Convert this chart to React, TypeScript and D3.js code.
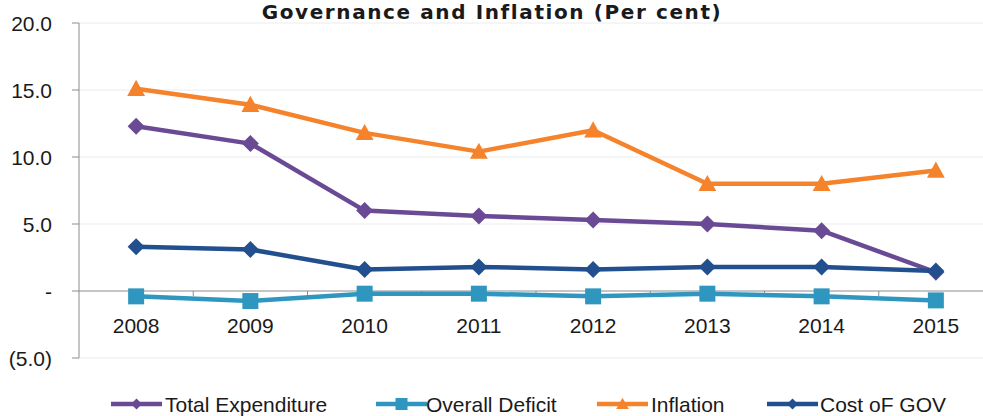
import React from "react";
import * as d3 from "d3";

const years = ["2008", "2009", "2010", "2011", "2012", "2013", "2014", "2015"];
const totalExpenditure = [12.3, 11.0, 6.0, 5.6, 5.3, 5.0, 4.5, 1.4];
const overallDeficit = [-0.4, -0.75, -0.2, -0.2, -0.4, -0.2, -0.4, -0.7];
const inflation = [15.1, 13.9, 11.8, 10.4, 12.0, 8.0, 8.0, 9.0];
const costOfGov = [3.3, 3.1, 1.6, 1.8, 1.6, 1.8, 1.8, 1.5];
const yTicks = [-5, 0, 5, 10, 15, 20];
const yTickLabels = ["(5.0)", "-", "5.0", "10.0", "15.0", "20.0"];

const series = [
  { name: "Total Expenditure", values: totalExpenditure, color: "#6a4a94", marker: "diamond" },
  { name: "Overall Deficit", values: overallDeficit, color: "#2f97bf", marker: "square" },
  { name: "Inflation", values: inflation, color: "#f5832c", marker: "triangle" },
  { name: "Cost oF GOV", values: costOfGov, color: "#224f8d", marker: "diamond" },
];

const W = 983;
const H = 416;
const left = 79;
const right = 993;
const top = 23;
const bottom = 358;

function markerPath(type: string, r: number) {
  const p = d3.path();
  if (type === "diamond") {
    p.moveTo(0, -r);
    p.lineTo(r, 0);
    p.lineTo(0, r);
    p.lineTo(-r, 0);
    p.closePath();
  } else if (type === "square") {
    p.rect(-r, -r, 2 * r, 2 * r);
  } else {
    p.moveTo(0, -r * 1.05);
    p.lineTo(r * 1.05, r * 0.85);
    p.lineTo(-r * 1.05, r * 0.85);
    p.closePath();
  }
  return p.toString();
}

export default function App() {
  const x = d3.scaleBand<string>().domain(years).range([left, right]).padding(0);
  const y = d3.scaleLinear().domain([-5, 20]).range([bottom, top]);
  const cx = (yr: string) => (x(yr) as number) + x.bandwidth() / 2;
  const line = d3
    .line<number>()
    .x((_, i) => cx(years[i]))
    .y((v) => y(v));

  const font = "'Liberation Sans', Arial, sans-serif";
  const markerR: Record<string, number> = { diamond: 8.5, square: 8, triangle: 8.5 };
  const legendR: Record<string, number> = { diamond: 5.5, square: 6, triangle: 6 };

  const legendItems = [
    { lx: 111, tx: 165 },
    { lx: 376, tx: 426 },
    { lx: 597, tx: 651 },
    { lx: 767, tx: 820 },
  ];

  return (
    <svg
      width={W}
      height={H}
      style={{ position: "absolute", left: 0, top: 0, background: "#fff" }}
    >
      {/* gridlines */}
      {yTicks.map((t) =>
        t === 0 ? null : (
          <line key={"g" + t} x1={left} x2={W} y1={y(t)} y2={y(t)} stroke="#ececec" strokeWidth={1} />
        )
      )}
      {/* y axis */}
      <line x1={left} x2={left} y1={top} y2={bottom} stroke="#8c8c8c" strokeWidth={1} />
      {yTicks.map((t, i) => (
        <g key={"yt" + t}>
          <line x1={left - 7} x2={left} y1={y(t)} y2={y(t)} stroke="#8c8c8c" strokeWidth={1} />
          <text
            x={52}
            y={y(t)}
            textAnchor="end"
            dominantBaseline="central"
            fontFamily={font}
            fontSize={21}
            fill="#1a1a1a"
          >
            {yTickLabels[i]}
          </text>
        </g>
      ))}
      {/* zero line */}
      <line x1={left} x2={W} y1={y(0)} y2={y(0)} stroke="#8c8c8c" strokeWidth={1} />
      {years.map((yr, i) =>
        i === 0 ? null : (
          <line key={"xt" + yr} x1={x(yr)} x2={x(yr)} y1={y(0)} y2={y(0) + 5} stroke="#8c8c8c" strokeWidth={1} />
        )
      )}
      {years.map((yr) => (
        <text
          key={"xl" + yr}
          x={cx(yr)}
          y={325}
          textAnchor="middle"
          dominantBaseline="central"
          fontFamily={font}
          fontSize={21}
          fill="#1a1a1a"
        >
          {yr}
        </text>
      ))}
      {/* series */}
      {series.map((s) => (
        <g key={s.name}>
          <path d={line(s.values) as string} fill="none" stroke={s.color} strokeWidth={4.5} strokeLinejoin="round" />
          {s.values.map((v, i) => (
            <path
              key={i}
              d={markerPath(s.marker, markerR[s.marker])}
              transform={`translate(${cx(years[i])},${y(v)})`}
              fill={s.color}
            />
          ))}
        </g>
      ))}
      {/* title */}
      <text
        x={492}
        y={18.5}
        textAnchor="middle"
        fontFamily="'DejaVu Sans', sans-serif"
        fontWeight="bold"
        fontSize={20}
        letterSpacing={1.6}
        fill="#1a1a1a"
      >
        Governance and Inflation (Per cent)
      </text>
      {/* legend */}
      {series.map((s, i) => {
        const it = legendItems[i];
        const ly = 404;
        return (
          <g key={"lg" + s.name}>
            <line x1={it.lx} x2={it.lx + 51} y1={ly} y2={ly} stroke={s.color} strokeWidth={4.5} />
            <path
              d={markerPath(s.marker, legendR[s.marker])}
              transform={`translate(${it.lx + 25.5},${ly})`}
              fill={s.color}
            />
            <text
              x={it.tx}
              y={ly}
              dominantBaseline="central"
              fontFamily={font}
              fontSize={21}
              fill="#1a1a1a"
            >
              {s.name}
            </text>
          </g>
        );
      })}
    </svg>
  );
}
